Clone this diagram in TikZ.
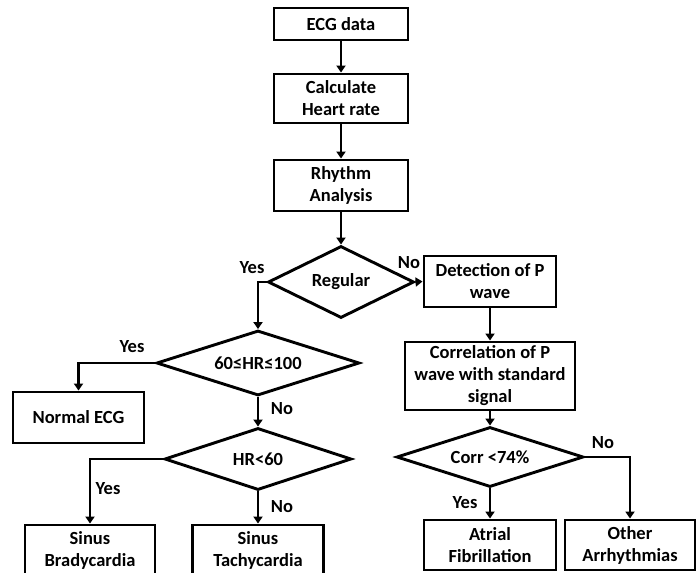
\documentclass[tikz,border=0pt]{standalone}
\usepackage{fontspec}
\setmainfont{Carlito}
\usetikzlibrary{shapes.geometric, arrows.meta}

\begin{document}
\begin{tikzpicture}[x=1pt, y=-1pt, line width=2.5pt, >={Triangle[width=9pt,length=7pt]},
		every node/.style={font=\fontsize{18.5}{22}\selectfont\bfseries},
		box/.style={draw, rectangle, line width=2.9pt, align=center, inner sep=0pt},
		decision/.style={draw, diamond, line width=2.9pt, aspect=2, inner sep=0pt},
		answer/.style={inner sep=0pt}]
	\useasboundingbox (0,0) rectangle (699,573);
	\clip (0,0) rectangle (699,573);
	%main column
	\node[box, minimum width=134, minimum height=32] (ecg) at (341,24) {ECG data};
	\node[box, minimum width=134, minimum height=49] (hr) at (341,98.5) {Calculate\\Heart rate};
	\node[box, minimum width=134, minimum height=51] (rhythm) at (341,185.5) {Rhythm\\Analysis};
	\node[decision, minimum width=146, minimum height=72] (regular) at (341,282) {Regular};
	\draw[->] (ecg) -- (hr);
	\draw[->] (hr) -- (rhythm);
	\draw[->] (rhythm) -- (regular);
	
	%irregular branch
	\node[box, minimum width=132, minimum height=51] (pwave) at (490,281.5) {Detection of P\\wave};
	\node[box, minimum width=170, minimum height=68] (corr) at (490,376) {Correlation of P\\wave with standard\\signal};
	\node[decision, minimum width=187, minimum height=60] (cmp) at (490,457) {Corr <74\%};
	\node[box, minimum width=132, minimum height=50] (afib) at (490,545) {Atrial\\Fibrillation};
	\node[box, minimum width=130, minimum height=50] (other) at (630,545) {Other\\Arrhythmias};
	\draw[->] (regular.east) -- (pwave.west);
	\draw[->] (pwave) -- (corr);
	\draw[->] (corr) -- (cmp);
	\draw[->] (cmp.south) -- (afib.north);
	\draw[->] (cmp.east) -| (other.north);
	
	%regular branch
	\node[decision, minimum width=203, minimum height=65] (rate) at (258,363) {60≤HR≤100};
	\node[box, minimum width=131, minimum height=51] (normal) at (78.5,417.5) {Normal ECG};
	\node[decision, minimum width=187, minimum height=62] (low) at (258,459) {HR<60};
	\node[box, minimum width=130, minimum height=50] (brady) at (90,550) {Sinus\\Bradycardia};
	\node[box, minimum width=131, minimum height=50] (tachy) at (258,550) {Sinus\\Tachycardia};
	\draw[->] (regular.west) -| (rate.north);
	\draw[->] (rate.west) -| (normal.north);
	\draw[->] (rate.south) -- (low.north);
	\draw[->] (low.west) -| (brady.north);
	\draw[->] (low.south) -- (tachy.north);
	
	%yes / no
	\node[answer] (yes1) at (252,268) {Yes};
	\node[answer] (no1) at (409,263) {No};
	\node[answer] (yes2) at (132,347) {Yes};
	\node[answer] (no2) at (282,409) {No};
	\node[answer] (yes3) at (108,489) {Yes};
	\node[answer] (no3) at (282,507) {No};
	\node[answer] (yes4) at (465,503) {Yes};
	\node[answer] (no4) at (603,443) {No};
\end{tikzpicture}
\end{document}
